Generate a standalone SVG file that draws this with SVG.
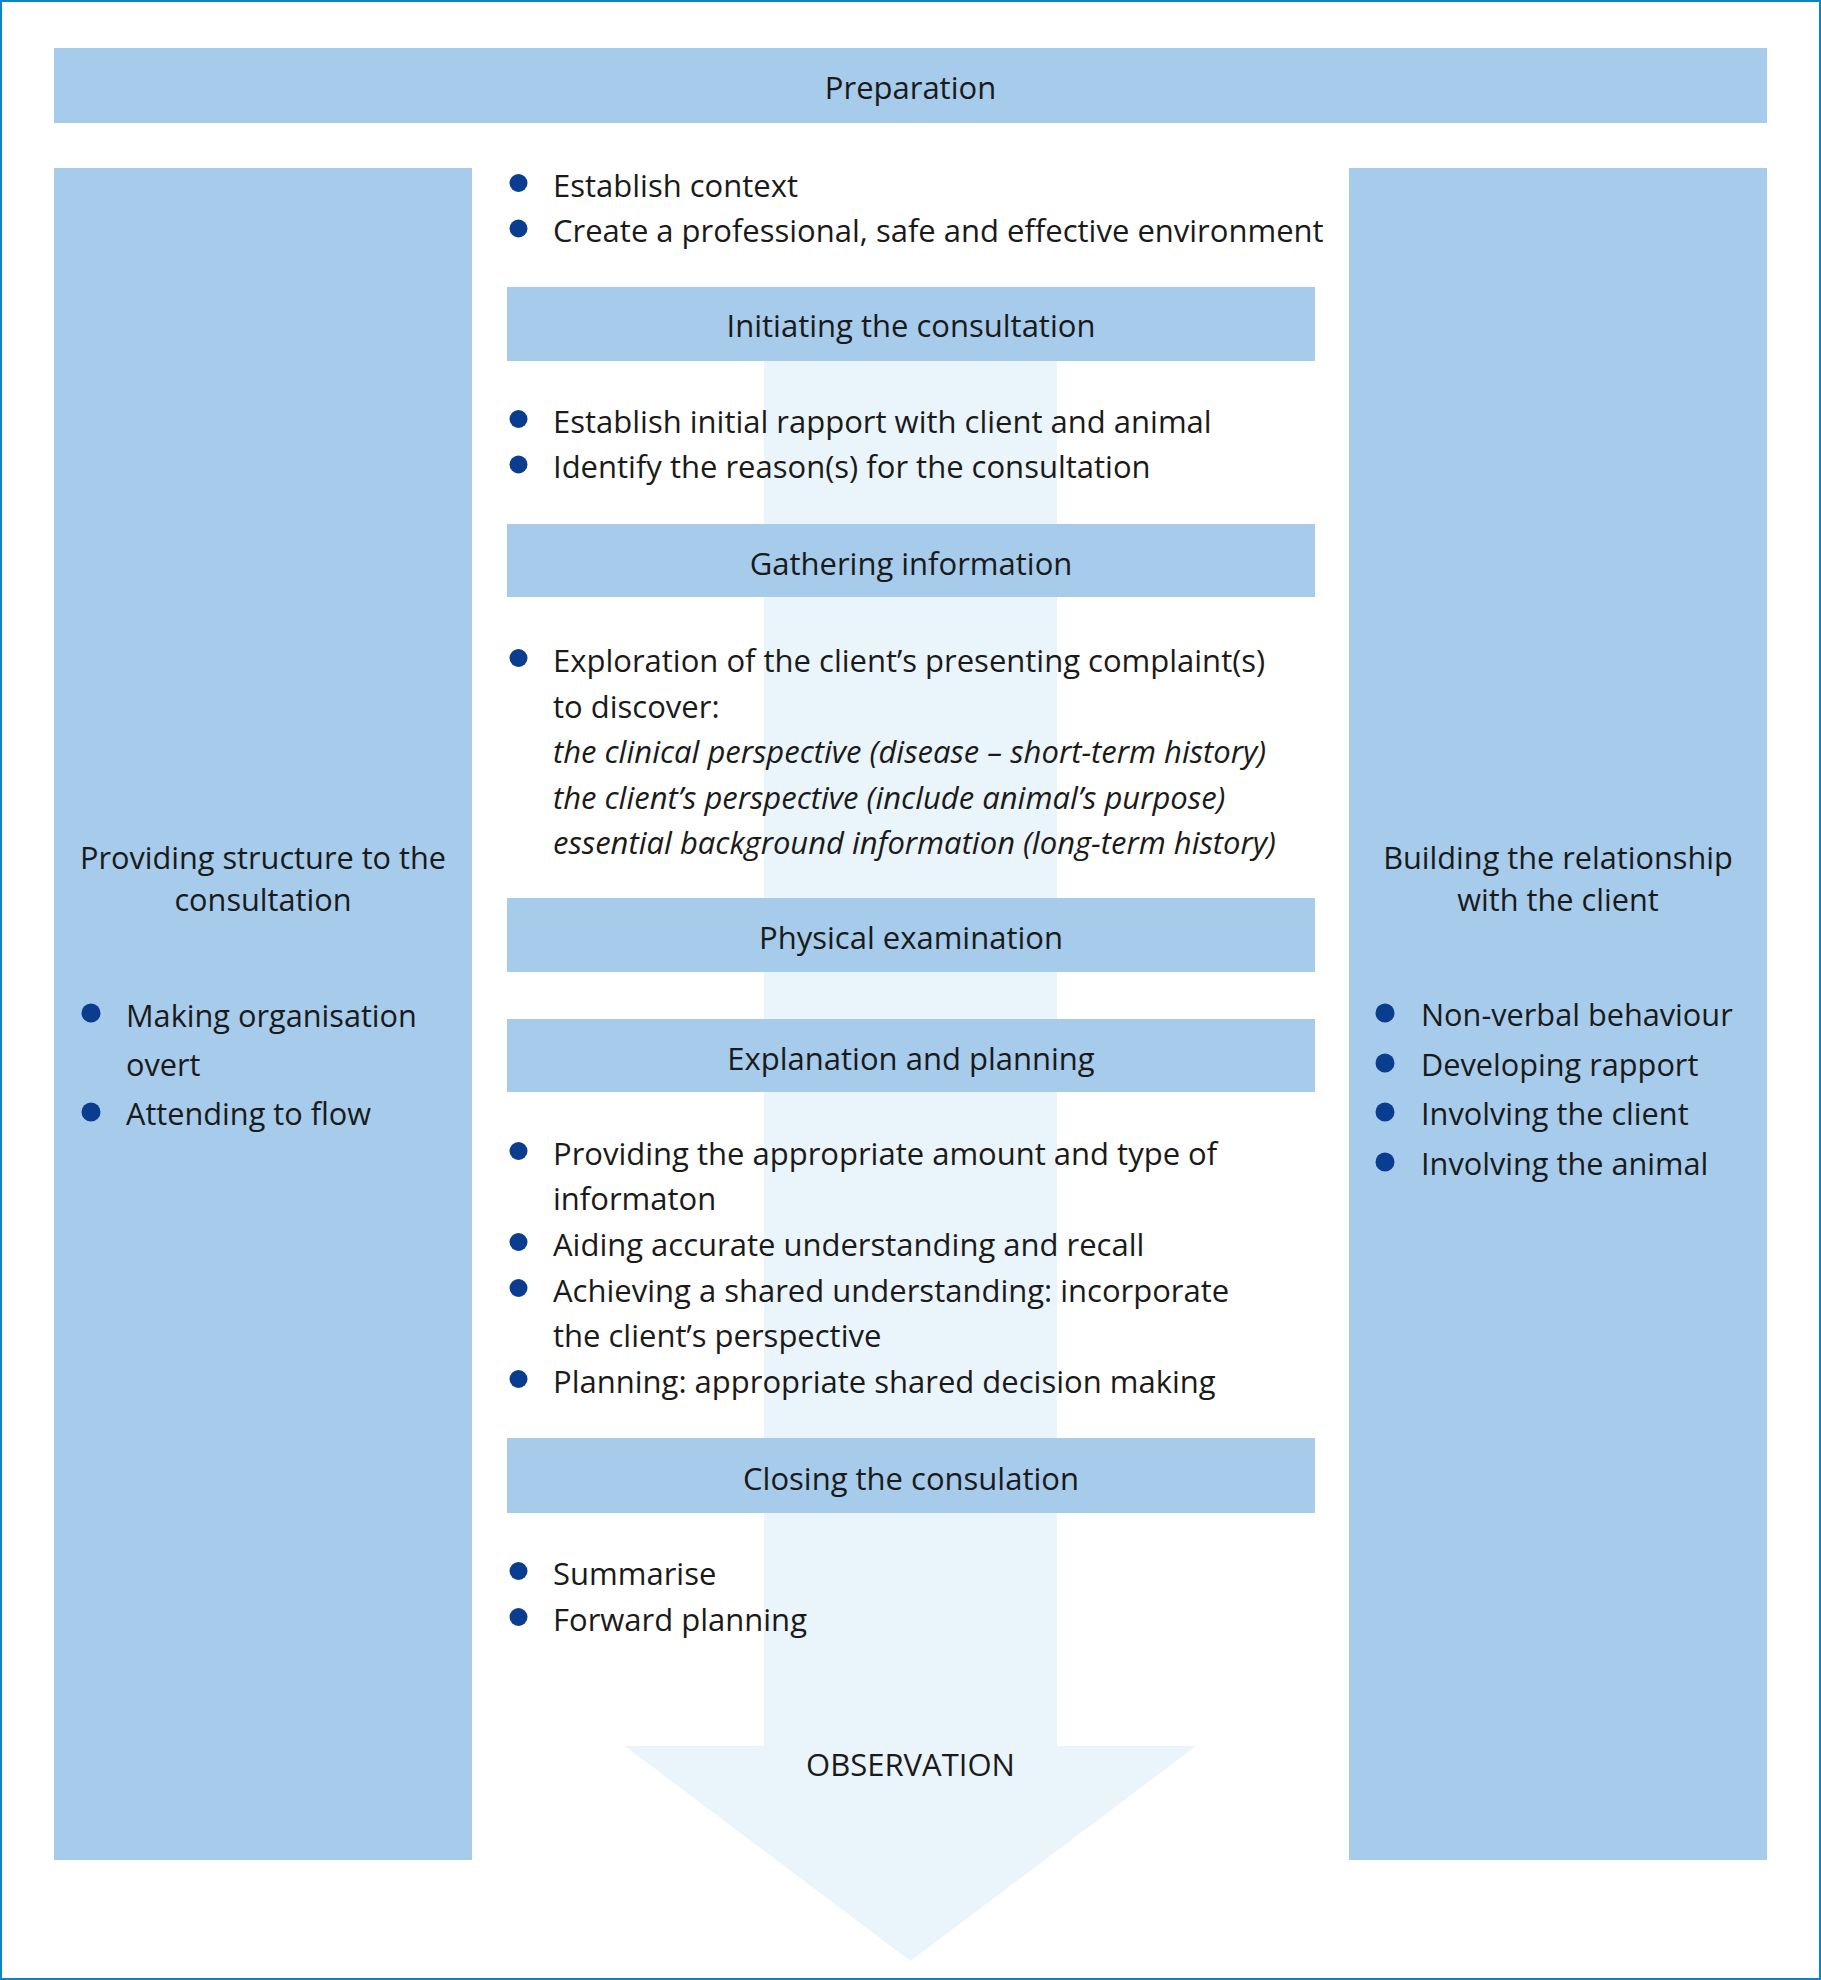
<svg xmlns="http://www.w3.org/2000/svg" width="1821" height="1980" viewBox="0 0 1821 1980">
<style>
.box{fill:#a6cbeb}
.arrow{fill:#eaf4fb}
.t{font-family:"Open Sans","Noto Sans","Liberation Sans",sans-serif;font-weight:400;fill:#1a1a1a;font-size:31px}
.s{font-size:30.7px}
.c{text-anchor:middle}
.i{font-style:italic}
.dot{fill:#0a3d8f}
</style>
<rect x="1" y="1" width="1819" height="1978" fill="#fff" stroke="#0a84c6" stroke-width="2"/>
<g id="connectors">
<polygon class="arrow" points="764,361 1057,361 1057,1746 1196,1746 910.5,1961 625,1746 764,1746"/>
<text class="t c" x="910.5" y="1776">OBSERVATION</text>
</g>
<g id="preparation">
<rect class="box" x="54" y="48" width="1713" height="75"/>
<text class="t c" x="910.5" y="99">Preparation</text>
</g>
<g id="structure">
<rect class="box" x="54" y="168" width="418" height="1692"/>
<text class="t s c" x="263" y="869">Providing structure to the</text>
<text class="t s c" x="263" y="911">consultation</text>
<circle class="dot" cx="91" cy="1013" r="9.5"/>
<text class="t s" x="126" y="1027">Making organisation</text>
<text class="t s" x="126" y="1076">overt</text>
<circle class="dot" cx="91" cy="1112" r="9.5"/>
<text class="t s" x="126" y="1125">Attending to flow</text>
</g>
<g id="relationship">
<rect class="box" x="1349" y="168" width="418" height="1692"/>
<text class="t s c" x="1558" y="869">Building the relationship</text>
<text class="t s c" x="1558" y="911">with the client</text>
<circle class="dot" cx="1385" cy="1013" r="9.5"/>
<text class="t s" x="1421" y="1026">Non-verbal behaviour</text>
<circle class="dot" cx="1385" cy="1063" r="9.5"/>
<text class="t s" x="1421" y="1076">Developing rapport</text>
<circle class="dot" cx="1385" cy="1112" r="9.5"/>
<text class="t s" x="1421" y="1125">Involving the client</text>
<circle class="dot" cx="1385" cy="1162" r="9.5"/>
<text class="t s" x="1421" y="1175">Involving the animal</text>
</g>
<g id="prep-items">
<circle class="dot" cx="518.5" cy="183" r="9"/>
<text class="t" x="553" y="197">Establish context</text>
<circle class="dot" cx="518.5" cy="228.5" r="9"/>
<text class="t" x="553" y="242">Create a professional, safe and effective environment</text>
</g>
<g id="initiating">
<rect class="box" x="507" y="287" width="808" height="74"/>
<text class="t c" x="911" y="337">Initiating the consultation</text>
<circle class="dot" cx="518.5" cy="419" r="9"/>
<text class="t" x="553" y="433">Establish initial rapport with client and animal</text>
<circle class="dot" cx="518.5" cy="464.5" r="9"/>
<text class="t" x="553" y="478">Identify the reason(s) for the consultation</text>
</g>
<g id="gathering">
<rect class="box" x="507" y="524" width="808" height="73"/>
<text class="t c" x="911" y="575">Gathering information</text>
<circle class="dot" cx="518.5" cy="658" r="9"/>
<text class="t" x="553" y="672">Exploration of the client’s presenting complaint(s)</text>
<text class="t" x="553" y="717.5">to discover:</text>
<text class="t i" x="553" y="763">the clinical perspective (disease – short-term history)</text>
<text class="t i" x="553" y="808.5">the client’s perspective (include animal’s purpose)</text>
<text class="t i" x="553" y="854">essential background information (long-term history)</text>
</g>
<g id="physical">
<rect class="box" x="507" y="898" width="808" height="74"/>
<text class="t c" x="911" y="949">Physical examination</text>
</g>
<g id="explanation">
<rect class="box" x="507" y="1019" width="808" height="73"/>
<text class="t c" x="911" y="1070">Explanation and planning</text>
<circle class="dot" cx="518.5" cy="1151" r="9"/>
<text class="t" x="553" y="1165">Providing the appropriate amount and type of</text>
<text class="t" x="553" y="1210">informaton</text>
<circle class="dot" cx="518.5" cy="1242" r="9"/>
<text class="t" x="553" y="1256">Aiding accurate understanding and recall</text>
<circle class="dot" cx="518.5" cy="1288" r="9"/>
<text class="t" x="553" y="1302">Achieving a shared understanding: incorporate</text>
<text class="t" x="553" y="1347">the client’s perspective</text>
<circle class="dot" cx="518.5" cy="1379" r="9"/>
<text class="t" x="553" y="1393">Planning: appropriate shared decision making</text>
</g>
<g id="closing">
<rect class="box" x="507" y="1438" width="808" height="75"/>
<text class="t c" x="911" y="1490">Closing the consulation</text>
<circle class="dot" cx="518.5" cy="1571" r="9"/>
<text class="t" x="553" y="1585">Summarise</text>
<circle class="dot" cx="518.5" cy="1617" r="9"/>
<text class="t" x="553" y="1631">Forward planning</text>
</g>
</svg>
